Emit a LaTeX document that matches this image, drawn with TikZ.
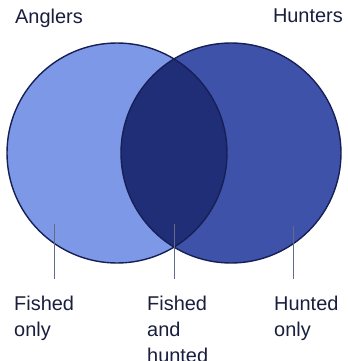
\documentclass[tikz,border=0pt]{standalone}
\usepackage{fontspec}
\setmainfont{Liberation Sans}
\usepackage{xcolor}
\usepackage{tikz}
\usetikzlibrary{positioning, calc}

\definecolor{anglerblue}{RGB}{125,152,230}
\definecolor{hunterblue}{RGB}{62,82,170}
\definecolor{bothblue}{RGB}{32,46,120}
\definecolor{rimblue}{RGB}{22,32,85}
\definecolor{leadgray}{RGB}{100,108,140}
\definecolor{inkblue}{RGB}{25,30,60}

\tikzset{
  setcircle/.style={circle, minimum size=220bp, inner sep=0pt},
  setname/.style={font=\fontsize{20}{26}\selectfont, text=inkblue, inner sep=0pt},
  region/.style={setname, align=left, anchor=north west},
  leader/.style={draw=leadgray, line width=0.9bp, shorten >=17bp}
}

\begin{document}
\begin{tikzpicture}[x=1bp, y=-1bp]
\useasboundingbox (0,0) rectangle (348,361);
\fill[white] (0,0) rectangle (348,361);

% the two sets
\node[setcircle, fill=anglerblue] (anglers) at (117,153) {};
\node[setcircle, fill=hunterblue] (hunters) at (231,153) {};
\begin{scope}
  \clip (117,153) circle (110);
  \fill[bothblue] (231,153) circle (110);
\end{scope}
\draw[rimblue, line width=1.4bp] (anglers.center) circle (110);
\draw[rimblue, line width=1.4bp] (hunters.center) circle (110);

\node[setname, anchor=north west] (anglerslbl) at (15,9) {Anglers};
\node[setname, anchor=north east] (hunterslbl) at (343,9) {Hunters};

% region labels
\node[region] (fished) at (14,296) {Fished\\only};
\node[region] (both) at (147,296) {Fished\\and\\hunted};
\node[region] (hunted) at (274,296) {Hunted\\only};

\coordinate (fishedtop) at (54,224);
\coordinate (bothtop) at (174,224);
\coordinate (huntedtop) at (293,226);

\draw[leader] (fishedtop) -- (fishedtop |- fished.north);
\draw[leader] (bothtop) -- (bothtop |- both.north);
\draw[leader] (huntedtop) -- (huntedtop |- hunted.north);
\end{tikzpicture}
\end{document}
